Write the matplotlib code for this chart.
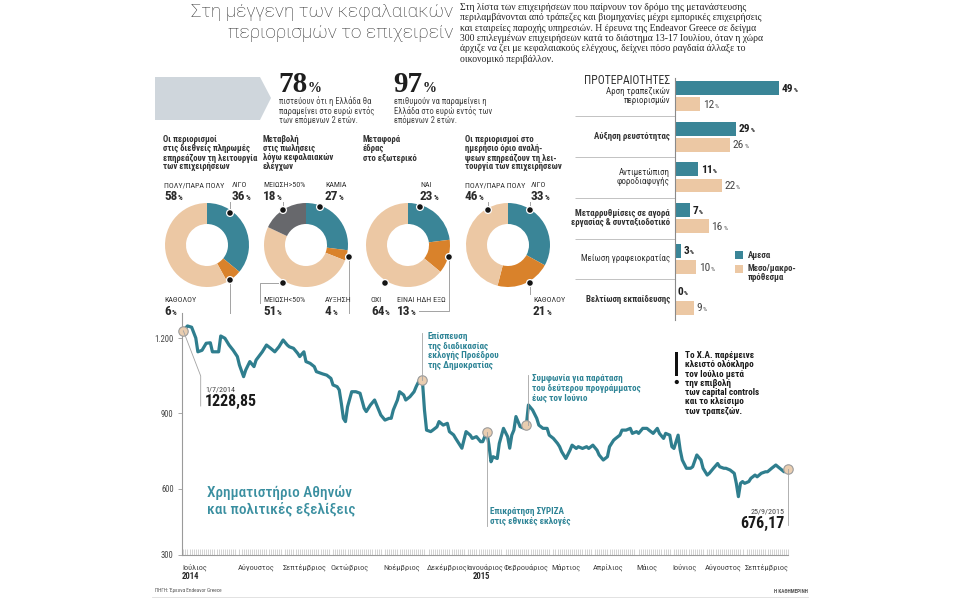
import numpy as np
import matplotlib
matplotlib.use('Agg')
import matplotlib.pyplot as plt
from matplotlib import font_manager
from matplotlib.patches import Polygon, Rectangle, Circle
from matplotlib.transforms import blended_transform_factory

# condensed face if one is installed, else Roboto
narrow = [f.name for f in font_manager.fontManager.ttflist
          if f.name in ('Liberation Sans Narrow', 'Roboto Condensed', 'Open Sans Condensed')]
plt.rcParams['font.family'] = narrow[:1] + ['Roboto', 'DejaVu Sans']
NARROW = bool(narrow)
sc = 1.0 if NARROW else 0.88

W, H = 958, 598

# ---------------- data ----------------
title = 'Στη μέγγενη των κεφαλαιακών\nπεριορισμών το επιχειρείν'
intro = ('Στη λίστα των επιχειρήσεων που παίρνουν τον δρόμο της μετανάστευσης\n'
         'περιλαμβάνονται από τράπεζες και βιομηχανίες μέχρι εμπορικές επιχειρήσεις\n'
         'και εταιρείες παροχής υπηρεσιών. Η έρευνα της Endeavor Greece σε δείγμα\n'
         '300 επιλεγμένων επιχειρήσεων κατά το διάστημα 13-17 Ιουλίου, όταν η χώρα\n'
         'άρχιζε να ζει με κεφαλαιακούς ελέγχους, δείχνει πόσο ραγδαία άλλαξε το\n'
         'οικονομικό περιβάλλον.')

stat_values = [78, 97]
stat_texts = ['πιστεύουν ότι η Ελλάδα θα\nπαραμείνει στο ευρώ εντός\nτων επόμενων 2 ετών.',
              'επιθυμούν να παραμείνει η\nΕλλάδα στο ευρώ εντός των\nεπόμενων 2 ετών.']

donut_titles = ['Οι περιορισμοί\nστις διεθνείς πληρωμές\nεπηρεάζουν τη λειτουργία\nτων επιχειρήσεων',
                'Μεταβολή\nστις πωλήσεις\nλόγω κεφαλαιακών\nελέγχων',
                'Μεταφορά\nέδρας\nστο εξωτερικό',
                'Οι περιορισμοί στο\nημερήσιο όριο αναλή-\nψεων επηρεάζουν τη λει-\nτουργία των επιχειρήσεων']
donut_cats = [['ΛΙΓΟ', 'ΚΑΘΟΛΟΥ', 'ΠΟΛΥ/ΠΑΡΑ ΠΟΛΥ'],
              ['ΚΑΜΙΑ', 'ΑΥΞΗΣΗ', 'ΜΕΙΩΣΗ<50%', 'ΜΕΙΩΣΗ>50%'],
              ['ΝΑΙ', 'ΕΙΝΑΙ ΗΔΗ ΕΞΩ', 'ΟΧΙ'],
              ['ΛΙΓΟ', 'ΚΑΘΟΛΟΥ', 'ΠΟΛΥ/ΠΑΡΑ ΠΟΛΥ']]
donut_shares = [[36, 6, 58],
                [27, 4, 51, 18],
                [23, 13, 64],
                [33, 21, 46]]

prio_labels = ['Αρση τραπεζικών\nπεριορισμών', 'Αύξηση ρευστότητας',
               'Αντιμετώπιση\nφοροδιαφυγής',
               'Μεταρρυθμίσεις σε αγορά\nεργασίας & συνταξιοδοτικό',
               'Μείωση γραφειοκρατίας', 'Βελτίωση εκπαίδευσης']
prio_now = [49, 29, 11, 7, 3, 0]
prio_later = [12, 26, 22, 16, 10, 9]

# Athens general index, trading sessions 1/7/2014 - 25/9/2015
sess = [0, 2, 4, 6, 7, 9, 11, 13, 14, 17, 18, 20, 22, 24, 26, 27, 29, 30, 32, 34,
        35, 38, 40, 42, 44, 46, 48, 50, 51, 53, 55, 56, 58, 59, 61, 63, 64, 67, 69, 71,
        72, 74, 75, 76, 77, 78, 79, 81, 83, 85, 87, 88, 90, 92, 94, 95, 97, 99, 100, 101,
        103, 104, 106, 107, 109, 111, 112, 114, 115, 116, 117, 119, 120, 122, 123, 125, 127, 128, 130, 131,
        133, 134, 136, 138, 139, 141, 143, 144, 146, 147, 148, 149, 151, 152, 154, 156, 157, 158, 159, 160,
        162, 164, 165, 166, 168, 170, 171, 173, 175, 176, 178, 180, 181, 182, 184, 186, 187, 189, 190, 192,
        194, 195, 197, 199, 200, 202, 204, 205, 207, 208, 210, 211, 213, 215, 216, 218, 219, 221, 223, 224,
        226, 228, 229, 231, 232, 234, 235, 236, 238, 239, 240, 242, 244, 245, 247, 249, 250, 252, 253, 255,
        257, 258, 260, 261, 263, 265, 266, 267, 268, 269, 270, 272, 273, 275, 276, 278, 280, 281, 283, 285,
        286, 288, 289, 291]
athex = [1228.85, 1248, 1243, 1200, 1145, 1151, 1179, 1181, 1145, 1145, 1208, 1199, 1172, 1151, 1126, 1092, 1046, 1072, 1106, 1086,
         1112, 1145, 1172, 1159, 1145, 1165, 1192, 1172, 1165, 1159, 1139, 1126, 1145, 1106, 1099, 1086, 1066, 1057, 1052, 1039,
         1013, 1006, 993, 940, 880, 867, 926, 986, 986, 980, 920, 907, 933, 953, 913, 893, 873, 880, 880, 913,
         953, 986, 973, 953, 966, 986, 1006, 1040, 1031, 913, 833, 827, 833, 846, 867, 853, 860, 827, 814, 800,
         774, 761, 827, 813, 800, 807, 787, 787, 827, 774, 707, 727, 720, 780, 840, 807, 761, 813, 833, 887,
         847, 840, 853, 933, 913, 880, 853, 840, 840, 813, 800, 780, 767, 747, 720, 753, 773, 760, 767, 760,
         767, 760, 773, 753, 734, 714, 727, 767, 793, 800, 813, 833, 833, 840, 820, 827, 820, 840, 840, 833,
         820, 840, 820, 800, 820, 813, 767, 760, 813, 754, 714, 681, 681, 687, 734, 714, 681, 654, 661, 681,
         700, 687, 681, 681, 674, 661, 621, 568, 621, 628, 621, 628, 641, 654, 647, 661, 667, 667, 681, 694,
         687, 674, 667, 676.17]

months = ['Ιούλιος', 'Αύγουστος', 'Σεπτέμβριος', 'Οκτώβριος', 'Νοέμβριος', 'Δεκέμβριος',
          'Ιανουάριος', 'Φεβρουάριος', 'Μάρτιος', 'Απρίλιος', 'Μάιος', 'Ιούνιος',
          'Αύγουστος', 'Σεπτέμβριος']
month_pos = [-0.6, 26, 48, 71, 96, 117, 136, 154, 177, 197, 218, 235, 251, 270]
years = ['2014', '2015']
year_pos = [-0.6, 139]

event_sess = [0, 115, 146, 165, 291]

# ---------------- style ----------------
teal = '#3a8597'
line_teal = '#2f7e8e'
ann_teal = '#2e8496'
beige = '#ecc8a4'
orange = '#d9822b'
slate = '#67686c'
dark = '#2a2a2a'
grey_txt = '#454545'
rule = '#a3a3a3'

fig = plt.figure(figsize=(W / 100, H / 100), dpi=100)
renderer = fig.canvas.get_renderer()

ov = fig.add_axes([0, 0, 1, 1])
ov.set_xlim(0, W)
ov.set_ylim(H, 0)
ov.axis('off')
ov.set_zorder(10)
ov.patch.set_visible(False)


def px_axes(x0, y0, x1, y1):
    return fig.add_axes([x0 / W, 1 - y1 / H, (x1 - x0) / W, (y1 - y0) / H])


def put(x, y, s, size, step, weight='normal', color=dark, ha='left', **kw):
    for i, ln in enumerate(s.split('\n')):
        ov.text(x, y + i * step, ln, fontsize=size, fontweight=weight, color=color,
                ha=ha, va='baseline', **kw)


def pct(x, y, num, size, weight='bold', color=dark, ratio=0.55, **kw):
    t = ov.text(x, y, str(num), fontsize=size, fontweight=weight, color=color,
                ha='left', va='baseline', **kw)
    bb = t.get_window_extent(renderer)
    xr = ov.transData.inverted().transform((bb.x1, bb.y0))[0]
    ov.text(xr + 0.5, y, '%', fontsize=size * ratio, fontweight=weight, color=color,
            va='baseline', **kw)


def to_px(ax, x, y):
    return ov.transData.inverted().transform(ax.transData.transform((x, y)))


# ---------------- header ----------------
put(453, 17, title, 13.7, 21, weight='light', color='#333333', ha='right', family='Roboto')
put(460, 10, intro, 6.9, 10.3, color='#222222', family='Liberation Serif')

ov.add_patch(Polygon([(155, 77), (260, 77), (271, 98), (260, 120), (155, 120)],
                     closed=True, fc='#cfd6dc', ec='none'))
for x0, v, txt in zip([278, 393], stat_values, stat_texts):
    pct(x0, 92, v, 21, family='Liberation Serif', color='#1e1e1e', ratio=0.48)
    put(x0 + 1, 104.5, txt, 6.2 * sc, 9.1, color=grey_txt)

# ---------------- donuts ----------------
donut_cx = [207, 306, 408, 508]
donut_cy = 245
R = 42
title_x = [163, 263, 363, 465]
seg_colors = [[teal, orange, beige], [teal, orange, beige, slate],
              [teal, orange, beige], [teal, orange, beige]]
# label x, row (0 top / 1 bottom), dot, leader path
lab_layout = [
    [(232, 0, (230, 213), [(230, 213), (230, 202)]),
     (164, 1, (230, 280), [(230, 280), (230, 313)]),
     (164, 0, None, None)],
    [(325, 0, (320, 207), None),
     (325, 1, (349, 257), [(349, 257), (349, 313)]),
     (263, 1, (283, 283), [(283, 283), (260, 283), (260, 303)]),
     (263, 0, (283, 210), [(283, 210), (283, 202)])],
    [(420, 0, (420, 207), None),
     (397, 1, (449, 257), [(449, 257), (449, 311), (419, 311)]),
     (371, 1, (385, 283), None)],
    [(531, 0, (530, 210), [(530, 210), (530, 202)]),
     (533, 1, (530, 283), [(530, 283), (530, 294)]),
     (465, 0, (488, 210), [(488, 210), (488, 202)])],
]
row_base = [(187, 200), (302, 315)]

for k in range(4):
    put(title_x[k], 142, donut_titles[k], 6.3 * sc, 9.4, weight='bold', color='#333333')
    ax = px_axes(donut_cx[k] - R, donut_cy - R, donut_cx[k] + R, donut_cy + R)
    ax.pie(donut_shares[k], colors=seg_colors[k], startangle=90, counterclock=False,
           radius=1, wedgeprops=dict(width=0.5, edgecolor='none'))
    ax.set_xlim(-1, 1)
    ax.set_ylim(-1, 1)
    ax.axis('off')
    for cat, val, (lx, row, dot, path) in zip(donut_cats[k], donut_shares[k], lab_layout[k]):
        cb, vb = row_base[row]
        put(lx, cb, cat, 5.8 * sc, 0, color='#333333')
        pct(lx, vb, val, 9.5)
        if path:
            xs, ys = zip(*path)
            ov.plot(xs, ys, color=rule, lw=0.7)
        if dot:
            ov.add_patch(Circle(dot, 3.4, fc='#151515', ec='white', lw=0.9, zorder=5))

# ---------------- priorities bar chart ----------------
ppx = 2.12
bax = px_axes(675, 78, 675 + ppx * 55, 320)
bax.set_xlim(0, 55)
bax.set_ylim(5.5, -0.44)
yy = np.arange(len(prio_now))
bax.barh(yy - 0.197, prio_now, height=0.34, color=teal)
bax.barh(yy + 0.197, prio_later, height=0.34, color=beige)
for s in ['top', 'right', 'bottom']:
    bax.spines[s].set_visible(False)
bax.spines['left'].set_color('#8a8a8a')
bax.spines['left'].set_linewidth(0.8)
bax.set_xticks([])
bax.set_yticks([])
bax.patch.set_visible(False)
bax.hlines(yy[:-1] + 0.5, -47, 0, color='#b8b8b8', lw=0.6, clip_on=False)
label_weights = ['normal', 'bold', 'normal', 'bold', 'normal', 'bold']
for i, (lab, wt) in enumerate(zip(prio_labels, label_weights)):
    nl = lab.count('\n')
    x0, y0 = to_px(bax, 0, i)
    put(x0 - 5, y0 + 2.3 - nl * 4.7, lab, 6.4 * sc, 9.4, weight=wt, color='#333333', ha='right')
    xa, ya = to_px(bax, prio_now[i], i - 0.197)
    pct(xa + 2.5, ya + 3.6, prio_now[i], 8.2, weight='bold', color='#1e1e1e')
    xb, yb = to_px(bax, prio_later[i], i + 0.197)
    pct(xb + 2.5, yb + 3.6, prio_later[i], 8.2, weight='normal', color=grey_txt)

put(670, 84, 'ΠΡΟΤΕΡΑΙΟΤΗΤΕΣ', 8.4 * sc, 0, color='#333333', ha='right')
ov.add_patch(Rectangle((735, 251), 8, 8, fc=teal, ec='none'))
ov.add_patch(Rectangle((735, 265), 8, 8, fc=beige, ec='none'))
put(748, 258, 'Αμεσα', 6.4 * sc, 0, weight='bold', color='#333333')
put(748, 271, 'Μεσο/μακρο-\nπρόθεσμα', 6.4 * sc, 8.5, weight='bold', color='#333333')

# ---------------- ATHEX line chart ----------------
y_bottom = 1200 - (555 - 338) * 3.984
y_top = 1300
top_px = 338 - (y_top - 1200) / 3.984
lax = px_axes(182, top_px, 788.3, 555)
lax.set_xlim(-0.63, 291)
lax.set_ylim(y_bottom, y_top)
lax.patch.set_visible(False)
lax.plot(sess, athex, color=line_teal, lw=2.3, solid_joinstyle='round', zorder=3)
ev_val = [athex[sess.index(s)] for s in event_sess]
lax.plot(event_sess, ev_val, 'o', ms=6.8, mfc='#e9cdb0', mec='#9c9c9c', mew=0.8,
         zorder=4, clip_on=False)

for s in ['top', 'right']:
    lax.spines[s].set_visible(False)
for s in ['left', 'bottom']:
    lax.spines[s].set_color('#9a9a9a')
    lax.spines[s].set_linewidth(0.8)
lax.set_yticks([y_bottom, 600, 900, 1200], ['300', '600', '900', '1.200'])
lax.tick_params(axis='y', length=3, width=0.6, color='#9a9a9a', labelsize=6.2 * sc,
                labelcolor=grey_txt, pad=3)
lax.set_xticks(month_pos, months, ha='left')
lax.set_xticks(np.arange(0, 292), minor=True)
lax.tick_params(axis='x', which='major', length=0, labelsize=6.0 if NARROW else 4.8,
                labelcolor=grey_txt, pad=6)
lax.tick_params(axis='x', which='minor', direction='in', length=4, width=0.4, color='#b0b0b0')
ytr = blended_transform_factory(lax.transData, ov.transData)
for yr, p in zip(years, year_pos):
    lax.text(p, 579, yr, transform=ytr, fontsize=6.2 * sc, fontweight='bold', color=dark)

# annotations
ex, ey = zip(*[to_px(lax, s, v) for s, v in zip(event_sess, ev_val)])
ov.plot([ex[0], 200.7, 200.7], [ey[0], 376, 406], color=rule, lw=0.6)
put(205, 391, '1/7/2014', 5.8 * sc, 0, color=grey_txt)
put(205, 406, '1228,85', 11.5, 0, weight='bold', color='#1a1a1a')

ann = 6.6 * sc
ov.plot([ex[1], ex[1]], [ey[1], 333], color=rule, lw=0.6)
put(428, 339, 'Επίσπευση\nτης διαδικασίας\nεκλογής Προέδρου\nτης Δημοκρατίας', ann, 9.6,
    weight='bold', color=ann_teal)

ov.plot([ex[2], ex[2]], [ey[2], 526], color=rule, lw=0.6)
put(490, 514, 'Επικράτηση ΣΥΡΙΖΑ\nστις εθνικές εκλογές', ann, 9.6, weight='bold', color=ann_teal)

ov.plot([ex[3] + 1.5, ex[3] + 1.5], [ey[3], 375], color=rule, lw=0.6)
put(532, 381, 'Συμφωνία για παράταση\nτου δεύτερου προγράμματος\nέως τον Ιούνιο', ann, 9.6,
    weight='bold', color=ann_teal)

ov.plot([ex[4], ex[4]], [ey[4], 525], color=rule, lw=0.6)
put(785, 513, '25/9/2015', 5.8 * sc, 0, color=grey_txt, ha='right')
put(785, 528, '676,17', 11.5, 0, weight='bold', color='#1a1a1a', ha='right')

ov.add_patch(Rectangle((675.4, 352), 2.8, 24, fc='#111111', ec='none'))
ov.add_patch(Circle((676.8, 382), 2.1, fc='#111111', ec='none'))
put(685, 358, 'Το Χ.Α. παρέμεινε\nκλειστό ολόκληρο\nτον Ιούλιο μετά\nτην επιβολή\n'
    'των capital controls\nκαι το κλείσιμο\nτων τραπεζών.', ann, 9.3, weight='bold', color='#1a1a1a')

put(207, 497, 'Χρηματιστήριο Αθηνών\nκαι πολιτικές εξελίξεις', 11 if NARROW else 10.5, 16.5,
    weight='medium', color='#3a8fa0')

# footer
put(155, 592, 'ΠΗΓΗ: Έρευνα Endeavor Greece', 3.8, 0, color='#555555')
put(808, 593, 'Η ΚΑΘΗΜΕΡΙΝΗ', 3.8, 0, weight='bold', color='#555555', ha='right')
ov.plot([152, 808], [596.5, 596.5], color='#dddddd', lw=0.6)

fig.savefig('out.png', dpi=100)
